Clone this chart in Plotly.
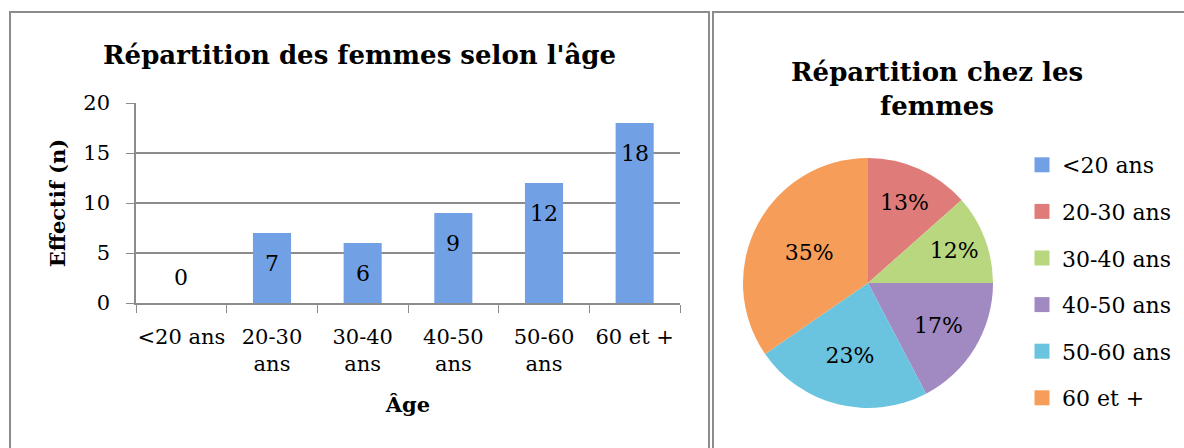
import plotly.graph_objects as go

# ---- data ----
categories = ["<20 ans", "20-30 ans", "30-40 ans", "40-50 ans", "50-60 ans", "60 et +"]
tick_labels = ["<20 ans", "20-30<br>ans", "30-40<br>ans", "40-50<br>ans", "50-60<br>ans", "60 et +"]
counts = [0, 7, 6, 9, 12, 18]
y_ticks = [0, 5, 10, 15, 20]

bar_title = "Répartition des femmes selon l'âge"
pie_title = "Répartition chez les<br>femmes"
y_title = "Effectif (n)"
x_title = "Âge"

# ---- style ----
bar_color = "#72a0e4"
slice_colors = ["#72a0e4", "#df7c79", "#b9d77e", "#a189c1", "#6ac4df", "#f69d59"]
FONT = "DejaVu Serif"
W, H = 1184, 448


def px(x):
    return x / W


def py(y):
    return 1 - y / H


fig = go.Figure()

fig.add_trace(go.Bar(
    x=categories, y=counts,
    marker=dict(color=bar_color, line=dict(width=0)),
    showlegend=False, hoverinfo="x+y",
    xaxis="x", yaxis="y",
))

fig.add_trace(go.Pie(
    labels=categories, values=counts,
    sort=False, direction="clockwise", rotation=0,
    marker=dict(colors=slice_colors, line=dict(width=0)),
    textinfo="percent", texttemplate="%{percent:.0%}",
    textposition="inside", insidetextorientation="horizontal",
    textfont=dict(family=FONT, size=22, color="black"),
    showlegend=False,
    domain=dict(x=[px(743), px(993)], y=[py(408), py(158)]),
))

# legend entries for the pie (one group each for spacing)
for cat, col in zip(categories, slice_colors):
    fig.add_trace(go.Scatter(
        x=[None], y=[None], mode="markers", name=cat,
        marker=dict(symbol="square", size=15, color=col),
        legendgroup=cat, showlegend=True, xaxis="x", yaxis="y",
    ))

# bar data labels
for cat, v in zip(categories, counts):
    fig.add_annotation(
        x=cat, y=v, xref="x", yref="y", text=str(v), showarrow=False,
        yshift=(-30 if v > 2 else 26),
        font=dict(family=FONT, size=22, color="black"),
    )

fig.add_annotation(x=px(359), y=py(55), xref="paper", yref="paper",
                   text=f"<b>{bar_title}</b>", showarrow=False,
                   xanchor="center", yanchor="middle",
                   font=dict(family=FONT, size=26, color="black"))
fig.add_annotation(x=px(937), y=py(89), xref="paper", yref="paper",
                   text=f"<b>{pie_title}</b>", showarrow=False,
                   xanchor="center", yanchor="middle",
                   font=dict(family=FONT, size=26, color="black"))

# panel borders
fig.add_shape(type="rect", xref="paper", yref="paper",
              x0=px(10), x1=px(709), y0=-0.2, y1=py(12),
              line=dict(color="#8c8c8c", width=2), fillcolor="rgba(0,0,0,0)")
fig.add_shape(type="rect", xref="paper", yref="paper",
              x0=px(713), x1=px(1200), y0=-0.2, y1=py(12),
              line=dict(color="#8c8c8c", width=2), fillcolor="rgba(0,0,0,0)")

fig.update_layout(
    template="none",
    width=W, height=H, autosize=False,
    margin=dict(l=0, r=0, t=0, b=0, pad=0, autoexpand=False),
    paper_bgcolor="white", plot_bgcolor="white",
    font=dict(family=FONT, size=21, color="black"),
    bargap=0.58,
    xaxis=dict(
        domain=[px(136), px(680)], automargin=False,
        type="category", categoryorder="array", categoryarray=categories,
        tickvals=categories, ticktext=tick_labels, tickangle=0,
        ticks="outside", tickson="boundaries", ticklen=8, tickcolor="#8c8c8c",
        showline=True, linecolor="#8c8c8c", linewidth=1.5,
        showgrid=False,
        tickfont=dict(family=FONT, size=21, color="black"),
        ticklabelstandoff=14,
        title=dict(text=f"<b>{x_title}</b>", font=dict(family=FONT, size=21), standoff=22),
        fixedrange=True,
    ),
    yaxis=dict(
        domain=[py(303), py(103)], automargin=False,
        range=[0, 20], tickvals=y_ticks,
        ticks="outside", ticklen=8, tickcolor="#8c8c8c",
        showline=True, linecolor="#8c8c8c", linewidth=1.5,
        showgrid=True, gridcolor="#8c8c8c", gridwidth=1.5,
        zeroline=False,
        tickfont=dict(family=FONT, size=21, color="black"),
        ticklabelstandoff=12,
        title=dict(text=f"<b>{y_title}</b>", font=dict(family=FONT, size=21), standoff=12),
        fixedrange=True,
    ),
    legend=dict(
        x=px(1022), y=py(144), xanchor="left", yanchor="top",
        font=dict(family=FONT, size=22, color="black"),
        tracegroupgap=15, itemwidth=30,
        bgcolor="rgba(0,0,0,0)",
    ),
)

fig.write_html(
    "out.html",
    config={"displayModeBar": False},
    post_script="document.body.style.margin='0';document.body.style.overflow='hidden';",
)
